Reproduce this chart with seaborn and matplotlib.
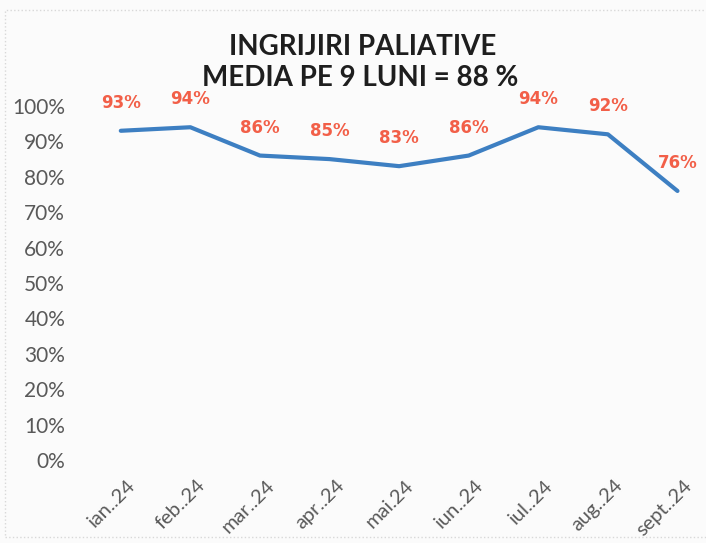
import matplotlib
matplotlib.use("Agg")
import matplotlib.pyplot as plt
import matplotlib.transforms as mtransforms
import seaborn as sns
import pandas as pd
from matplotlib.patches import Rectangle

months = ["ian..24", "feb..24", "mar..24", "apr..24", "mai.24", "iun..24", "iul..24", "aug..24", "sept..24"]
values = [93, 94, 86, 85, 83, 86, 94, 92, 76]
y_ticks = [0, 10, 20, 30, 40, 50, 60, 70, 80, 90, 100]
title_lines = ["INGRIJIRI PALIATIVE", "MEDIA PE 9 LUNI = 88 %"]

sns.set_theme(style="white")
plt.rcParams["font.family"] = ["Lato", "DejaVu Sans"]

df = pd.DataFrame({"pos": range(len(months)), "val": [v / 100 for v in values]})

W, H = 706, 543
fig = plt.figure(figsize=(W / 100, H / 100), dpi=100)
fig.patch.set_facecolor("#FBFBFB")
ax = fig.add_axes([86 / W, 83 / H, 620 / W, 354 / H])
ax.set_facecolor("#FBFBFB")

sns.lineplot(data=df, x="pos", y="val", ax=ax, color="#3D7FC2", linewidth=3.0)

for p, v in zip(df["pos"], values):
    ax.annotate(f"{v}%", (p, v / 100), xytext=(0, 28), textcoords="offset pixels",
                ha="center", va="center", fontsize=12, fontweight="bold",
                family=["DejaVu Sans"],
                color="#F25F48", annotation_clip=False)

ax.set_xlim(-0.5, 8.41)
ax.set_ylim(0, 1)
ax.set_yticks([t / 100 for t in y_ticks])
ax.set_yticklabels([f"{t}%" for t in y_ticks], fontsize=15, color="#595959")
ax.set_xticks(list(range(len(months))))
ax.set_xticklabels(months, rotation=45, ha="right", rotation_mode="anchor",
                   fontsize=14.5, color="#595959")
ax.tick_params(axis="y", length=0, pad=15)
ax.tick_params(axis="x", length=0, pad=12)
shift = mtransforms.ScaledTranslation(6 / 100, 0, fig.dpi_scale_trans)
for lbl in ax.get_xticklabels():
    lbl.set_transform(lbl.get_transform() + shift)
for s in ax.spines.values():
    s.set_visible(False)
ax.set_xlabel("")
ax.set_ylabel("")

fig.text(363 / W, 1 - 47 / H, title_lines[0], ha="center", va="center",
         fontsize=20, fontweight="bold", color="#1E1E1E")
fig.text(360 / W, 1 - 78 / H, title_lines[1], ha="center", va="center",
         fontsize=20, fontweight="bold", color="#1E1E1E")

fig.patches.append(Rectangle((5 / W, 6 / H), 1.0, 1 - 16 / H, transform=fig.transFigure,
                             fill=False, edgecolor="#D8D8D8", linestyle=":", linewidth=1))

fig.savefig("out.png", dpi=100, facecolor=fig.get_facecolor())
